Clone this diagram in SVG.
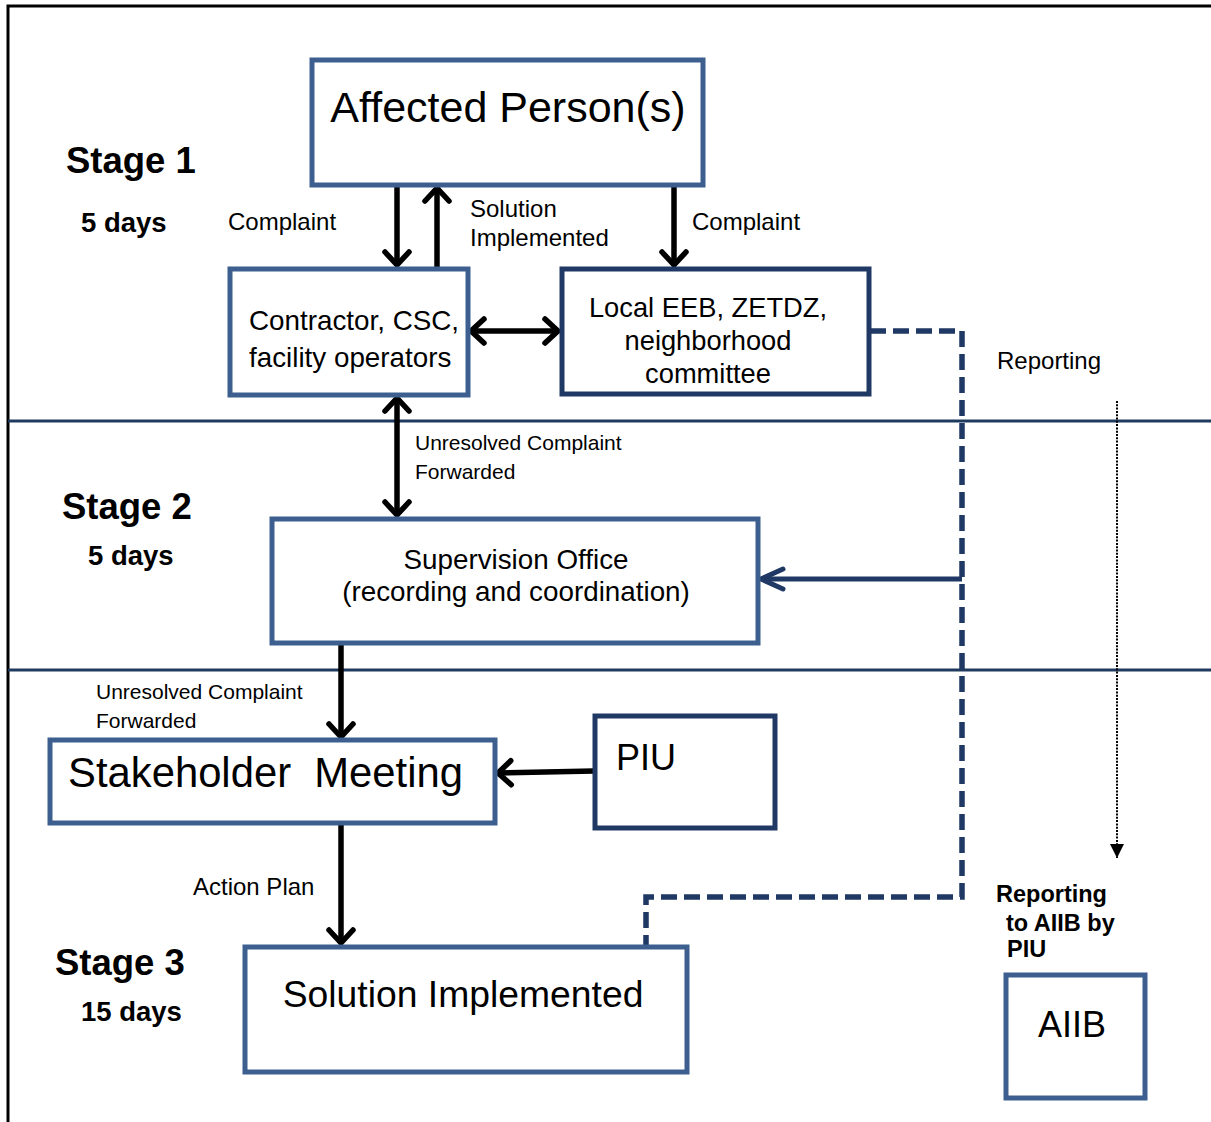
<svg xmlns="http://www.w3.org/2000/svg" width="1211" height="1122" viewBox="0 0 1211 1122">
<style>
.box{fill:#fff;stroke:#3c5f8f;stroke-width:5}
.dbox{fill:#fff;stroke:#1f3864;stroke-width:5}
.t{font-family:"Liberation Sans",Arial,sans-serif;fill:#000}
.b{font-family:"Liberation Sans",Arial,sans-serif;font-weight:bold;fill:#000}
.arr{stroke:#000;stroke-width:5.5;fill:none}
.div{stroke:#1f3a5f;stroke-width:3}
</style>
<defs>
<marker id="ah" markerUnits="userSpaceOnUse" viewBox="-20 -16 26 32" markerWidth="26" markerHeight="32" refX="0" refY="0" orient="auto-start-reverse" overflow="visible">
<path d="M-13,-12 L0,0 L-13,12" fill="none" stroke="#000" stroke-width="5.5" stroke-linecap="round" stroke-linejoin="round"/>
</marker>
<marker id="ahn" markerUnits="userSpaceOnUse" viewBox="-20 -16 26 32" markerWidth="26" markerHeight="32" refX="0" refY="0" orient="auto" overflow="visible">
<path d="M-22,-10 L0,0 L-22,10" fill="none" stroke="#1f3864" stroke-width="5" stroke-linecap="round" stroke-linejoin="round"/>
</marker>
<marker id="tri" markerUnits="userSpaceOnUse" viewBox="-14 -8 16 16" markerWidth="16" markerHeight="16" refX="0" refY="0" orient="auto" overflow="visible">
<path d="M-14,-7 L0,0 L-14,7 Z" fill="#000"/>
</marker>
</defs>

<g id="frame">
<path d="M8,1122 V6 H1211" fill="none" stroke="#000" stroke-width="3"/>
<line class="div" x1="8" y1="421" x2="1211" y2="421"/>
<line class="div" x1="8" y1="670" x2="1211" y2="670"/>
</g>

<g id="labels">
<text class="b" x="66" y="173" font-size="36.5">Stage 1</text>
<text class="b" x="81" y="232" font-size="27.5">5 days</text>
<text class="b" x="62" y="519" font-size="36.5">Stage 2</text>
<text class="b" x="88" y="565" font-size="27.5">5 days</text>
<text class="b" x="55" y="975" font-size="36.5">Stage 3</text>
<text class="b" x="81" y="1021" font-size="27.5">15 days</text>
</g>

<g id="connectors">
<line class="arr" x1="397" y1="186" x2="397" y2="265" marker-end="url(#ah)"/>
<line class="arr" x1="437" y1="268" x2="437" y2="188" marker-end="url(#ah)"/>
<line class="arr" x1="674" y1="186" x2="674" y2="265" marker-end="url(#ah)"/>
<line class="arr" x1="471" y1="331" x2="558" y2="331" marker-start="url(#ah)" marker-end="url(#ah)"/>
<line class="arr" x1="397" y1="398" x2="397" y2="515" marker-start="url(#ah)" marker-end="url(#ah)"/>
<line class="arr" x1="341" y1="644" x2="341" y2="737" marker-end="url(#ah)"/>
<line class="arr" x1="594" y1="771" x2="498" y2="773" marker-end="url(#ah)"/>
<line class="arr" x1="341" y1="823" x2="341" y2="943" marker-end="url(#ah)"/>
<path d="M870,331 H962 V897 H646 V946" fill="none" stroke="#1f3864" stroke-width="5.5" stroke-dasharray="16 7"/>
<line x1="962" y1="579" x2="761" y2="579" stroke="#1f3864" stroke-width="5" marker-end="url(#ahn)"/>
<line x1="1117" y1="401" x2="1117" y2="858" stroke="#000" stroke-width="2" stroke-dasharray="2 1.3" marker-end="url(#tri)"/>
<text class="t" x="228" y="230" font-size="24">Complaint</text>
<text class="t" x="470" y="217" font-size="24">Solution</text>
<text class="t" x="470" y="246" font-size="24">Implemented</text>
<text class="t" x="692" y="230" font-size="24">Complaint</text>
<text class="t" x="997" y="369" font-size="24">Reporting</text>
<text class="t" x="415" y="450" font-size="21">Unresolved Complaint</text>
<text class="t" x="415" y="479" font-size="21">Forwarded</text>
<text class="t" x="96" y="699" font-size="21">Unresolved Complaint</text>
<text class="t" x="96" y="728" font-size="21">Forwarded</text>
<text class="t" x="193" y="895" font-size="24">Action Plan</text>
<text class="b" x="996" y="902" font-size="23.5">Reporting</text>
<text class="b" x="1006" y="931" font-size="23.5">to AIIB by</text>
<text class="b" x="1007" y="957" font-size="23.5">PIU</text>
</g>

<g id="affected">
<rect class="box" x="312" y="60" width="391" height="125"/>
<text class="t" x="508" y="122" font-size="43" text-anchor="middle">Affected Person(s)</text>
</g>
<g id="contractor">
<rect class="box" x="230" y="269" width="238" height="126"/>
<text class="t" x="249" y="330" font-size="27.8">Contractor, CSC,</text>
<text class="t" x="249" y="367" font-size="27.8">facility operators</text>
</g>
<g id="local">
<rect class="dbox" x="562" y="269" width="307" height="125"/>
<text class="t" x="708" y="317" font-size="27.3" text-anchor="middle">Local EEB, ZETDZ,</text>
<text class="t" x="708" y="350" font-size="27.3" text-anchor="middle">neighborhood</text>
<text class="t" x="708" y="383" font-size="27.3" text-anchor="middle">committee</text>
</g>
<g id="supervision">
<rect class="box" x="272" y="519" width="486" height="124"/>
<text class="t" x="516" y="569" font-size="27.8" text-anchor="middle">Supervision Office</text>
<text class="t" x="516" y="601" font-size="27.8" text-anchor="middle">(recording and coordination)</text>
</g>
<g id="stakeholder">
<rect class="box" x="50" y="740" width="445" height="83"/>
<text class="t" x="68" y="787" font-size="41.8" style="white-space:pre">Stakeholder  Meeting</text>
</g>
<g id="piu">
<rect class="dbox" x="595" y="716" width="180" height="112"/>
<text class="t" x="616" y="770" font-size="36">PIU</text>
</g>
<g id="solution">
<rect class="box" x="245" y="947" width="442" height="125"/>
<text class="t" x="463" y="1007" font-size="37.3" text-anchor="middle">Solution Implemented</text>
</g>
<g id="aiib">
<rect class="box" x="1006" y="975" width="139" height="123"/>
<text class="t" x="1072" y="1037" font-size="36" text-anchor="middle">AIIB</text>
</g>
</svg>
